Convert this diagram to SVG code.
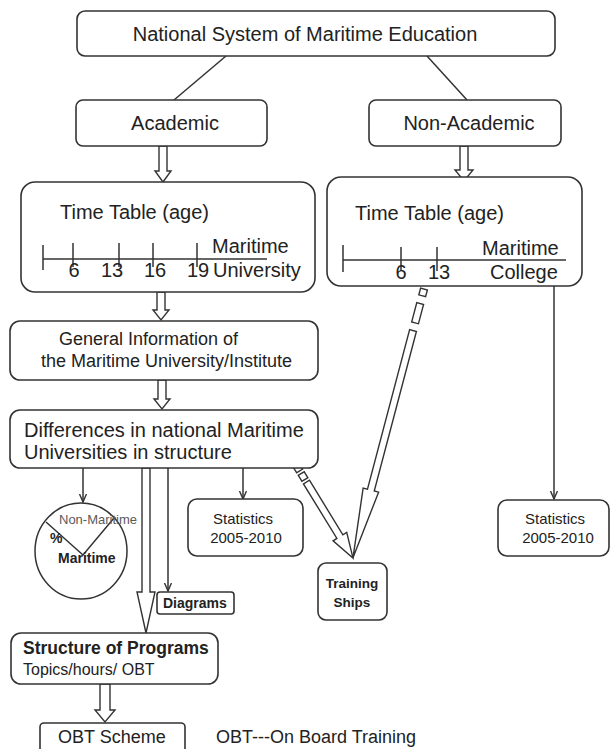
<svg xmlns="http://www.w3.org/2000/svg" width="611" height="749" viewBox="0 0 611 749">
<style>
  .box { fill: #ffffff; stroke: #333333; stroke-width: 1.6; }
  .ln { fill: none; stroke: #333333; stroke-width: 1.5; }
  .hol { fill: #ffffff; stroke: #333333; stroke-width: 1.4; stroke-linejoin: miter; }
  text { font-family: "Liberation Sans", Arial, sans-serif; fill: #222222; }
  .t20 { font-size: 20px; }
  .t18 { font-size: 18px; }
  .t15 { font-size: 15px; }
  .b { font-weight: bold; }
  .mid { text-anchor: middle; }
</style>
<defs>
  <marker id="arr" markerWidth="10" markerHeight="10" refX="8" refY="4" orient="auto" markerUnits="userSpaceOnUse">
    <path d="M0,0.5 L8,4 L0,7.5" fill="none" stroke="#333333" stroke-width="1.4"/>
  </marker>
</defs>
<rect width="611" height="749" fill="#ffffff"/>

<g id="connectors">
  <line class="ln" x1="226" y1="56" x2="174" y2="100"/>
  <line class="ln" x1="427" y1="56" x2="467" y2="100"/>
  <!-- hollow arrows -->
  <polygon class="hol" points="159,146 159,171 155,171 163,182 171,171 167,171 167,146"/>
  <polygon class="hol" points="460,146 460,170 455,170 464,181 473,170 468,170 468,146"/>
  <polygon class="hol" points="157,292 157,310 153,310 161,320 169,310 165,310 165,292"/>
  <polygon class="hol" points="158,380 158,399 154,399 162,409 170,399 166,399 166,380"/>
  <polygon class="hol" points="142,468 142,592 137,592 146,633 155,592 150,592 150,468"/>
  <polygon class="hol" points="100,684 100,710 95,710 105,722 115,710 110,710 110,684"/>
  <!-- simple arrows -->
  <line class="ln" x1="83" y1="468" x2="83" y2="502" marker-end="url(#arr)"/>
  <line class="ln" x1="168" y1="468" x2="168" y2="591" marker-end="url(#arr)"/>
  <line class="ln" x1="243" y1="468" x2="243" y2="499" marker-end="url(#arr)"/>
  <line class="ln" x1="554" y1="286" x2="554" y2="499" marker-end="url(#arr)"/>
  <!-- dashed hollow arrow from Non-Academic timetable to Training Ships -->
  <g transform="translate(424,289) rotate(104.8)">
    <rect class="hol" x="0" y="-3.5" width="7" height="7"/>
    <rect class="hol" x="15" y="-3.5" width="20" height="7"/>
    <polygon class="hol" points="43,-3.5 208,-3.5 208,-8 278,0 208,8 208,3.5 43,3.5"/>
  </g>
  <!-- dashed hollow arrow from Differences to Training Ships -->
  <g transform="translate(296,465) rotate(58.5)">
    <rect class="hol" x="1" y="-3.5" width="6" height="7"/>
    <rect class="hol" x="10" y="-3.5" width="7" height="7"/>
    <polygon class="hol" points="20,-3.5 84,-3.5 84,-8 109,0 84,8 84,3.5 20,3.5"/>
  </g>
</g>

<g id="national">
  <rect class="box" x="77" y="11" width="478" height="45" rx="8"/>
  <text class="t20 mid" x="305" y="41">National System of Maritime Education</text>
</g>
<g id="academic">
  <rect class="box" x="76" y="100" width="191" height="46" rx="7"/>
  <text class="t20 mid" x="175" y="130">Academic</text>
</g>
<g id="nonacademic">
  <rect class="box" x="369" y="100" width="192" height="46" rx="7"/>
  <text class="t20 mid" x="469" y="130">Non-Academic</text>
</g>

<g id="timetable-academic">
  <rect class="box" x="21" y="182" width="294" height="110" rx="14"/>
  <text class="t20" x="60" y="219">Time Table (age)</text>
  <line class="ln" x1="43" y1="259" x2="267" y2="259"/>
  <line class="ln" x1="43" y1="245" x2="43" y2="270"/>
  <line class="ln" x1="73" y1="243" x2="73" y2="267"/>
  <line class="ln" x1="119" y1="243" x2="119" y2="267"/>
  <line class="ln" x1="153" y1="243" x2="153" y2="267"/>
  <line class="ln" x1="197" y1="243" x2="197" y2="267"/>
  <text class="t20 mid" x="74" y="277">6</text>
  <text class="t20 mid" x="112" y="277">13</text>
  <text class="t20 mid" x="155" y="277">16</text>
  <text class="t20 mid" x="198" y="277">19</text>
  <text class="t20" x="212" y="253">Maritime</text>
  <text class="t20" x="213" y="277">University</text>
</g>

<g id="timetable-nonacademic">
  <rect class="box" x="327" y="177" width="255" height="109" rx="14"/>
  <text class="t20" x="355" y="220">Time Table (age)</text>
  <line class="ln" x1="343" y1="260" x2="566" y2="260"/>
  <line class="ln" x1="343" y1="245" x2="343" y2="272"/>
  <line class="ln" x1="401" y1="247" x2="401" y2="271"/>
  <line class="ln" x1="437" y1="247" x2="437" y2="271"/>
  <text class="t20 mid" x="401" y="279">6</text>
  <text class="t20 mid" x="439" y="279">13</text>
  <text class="t20" x="482" y="255">Maritime</text>
  <text class="t20" x="490" y="279">College</text>
</g>

<g id="general">
  <rect class="box" x="10" y="321" width="308" height="59" rx="10"/>
  <text class="t18" x="59" y="345">General Information of</text>
  <text class="t18" x="41" y="367">the Maritime University/Institute</text>
</g>

<g id="differences">
  <rect class="box" x="10" y="410" width="308" height="58" rx="10"/>
  <text class="t20" x="24" y="437">Differences in national Maritime</text>
  <text class="t20" x="24" y="459">Universities in structure</text>
</g>

<g id="pie">
  <ellipse class="ln" cx="81" cy="551" rx="46" ry="48"/>
  <polyline class="ln" points="46,522 83,555 114,518"/>
  <text x="59" y="524" style="font-size:13px; fill:#5a5a5a">Non-Maritime</text>
  <text class="b" x="50" y="543" style="font-size:14px">%</text>
  <text class="b" x="58" y="563" style="font-size:14px">Maritime</text>
</g>

<g id="statistics-1">
  <rect class="box" x="188" y="499" width="115" height="57" rx="9"/>
  <text class="t15 mid" x="243" y="524">Statistics</text>
  <text class="t15 mid" x="246" y="543">2005-2010</text>
</g>

<g id="statistics-2">
  <rect class="box" x="498" y="500" width="111" height="56" rx="9"/>
  <text class="t15 mid" x="555" y="524">Statistics</text>
  <text class="t15 mid" x="558" y="543">2005-2010</text>
</g>

<g id="training-ships">
  <rect class="box" x="318" y="563" width="69" height="57" rx="8"/>
  <text class="b mid" x="352" y="588" style="font-size:13.5px">Training</text>
  <text class="b mid" x="352" y="607" style="font-size:13.5px">Ships</text>
</g>

<g id="diagrams">
  <rect class="box" x="157" y="592" width="77" height="22" rx="3"/>
  <text class="b" x="163" y="608" style="font-size:14px">Diagrams</text>
</g>

<g id="structure">
  <rect class="box" x="11" y="633" width="207" height="51" rx="10"/>
  <text class="b" x="23" y="654" style="font-size:17.5px">Structure of Programs</text>
  <text x="23" y="675" style="font-size:16px">Topics/hours/ OBT</text>
</g>

<g id="obt-scheme">
  <rect class="box" x="40" y="723" width="145" height="34" rx="4"/>
  <text class="t18" x="58" y="743">OBT Scheme</text>
</g>

<g id="legend">
  <text class="t18" x="216" y="743">OBT---On Board Training</text>
</g>
</svg>
